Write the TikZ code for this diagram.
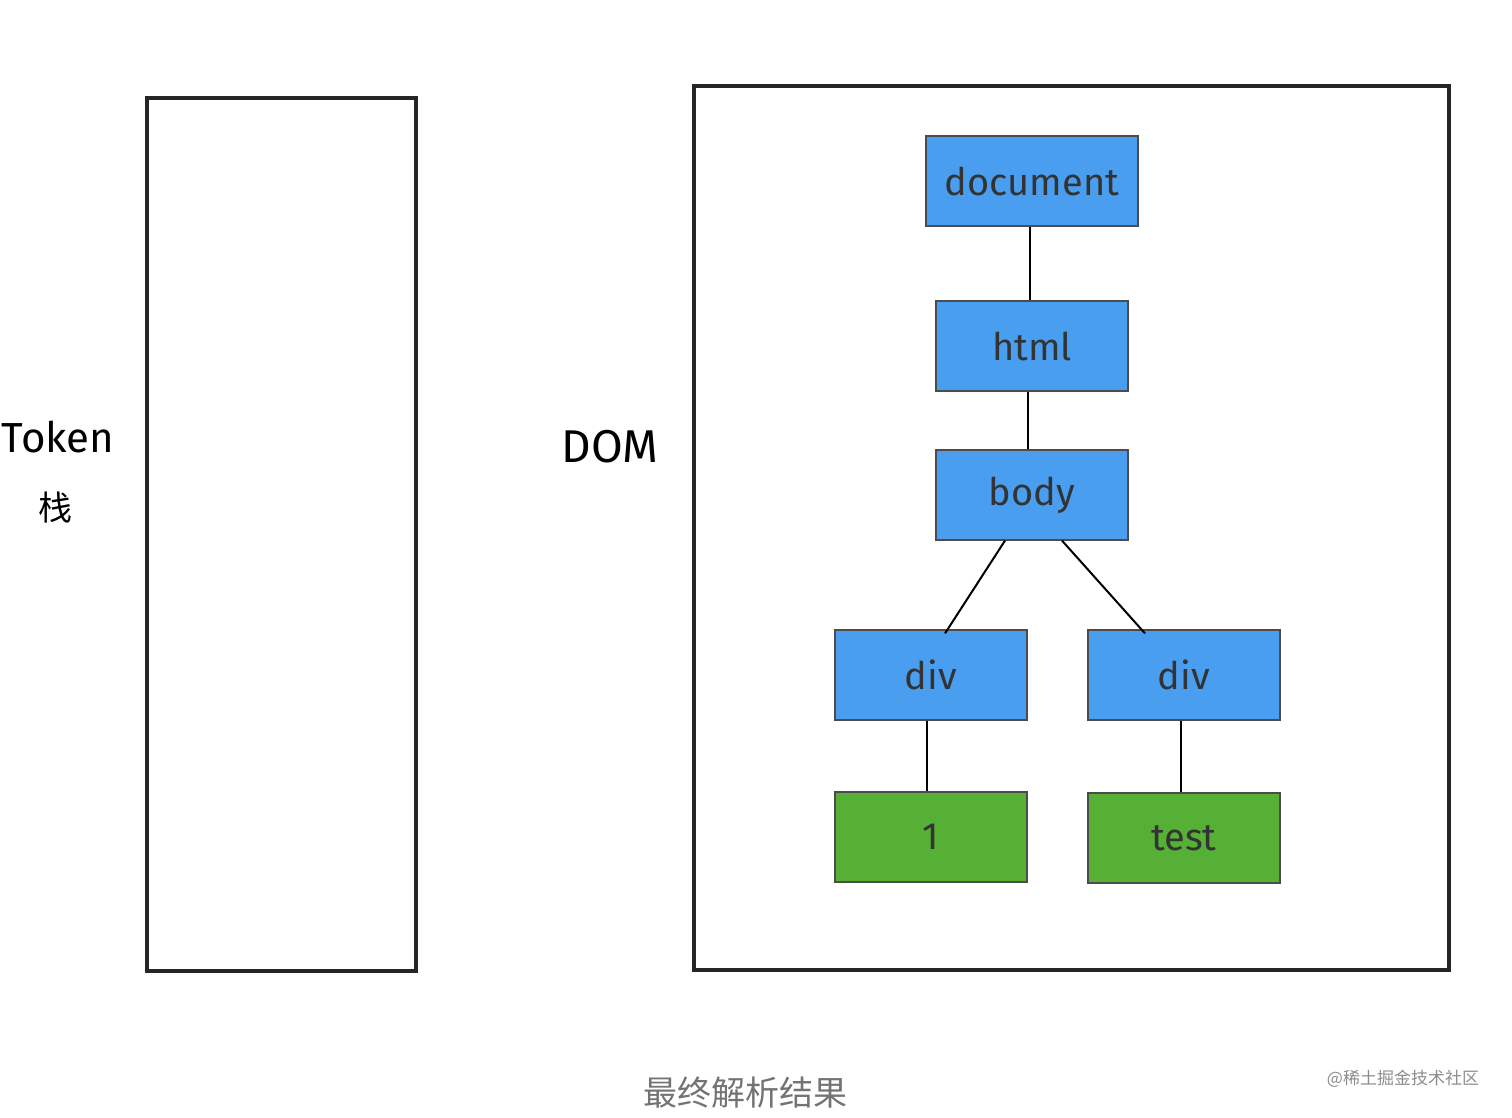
\documentclass[tikz,border=0pt]{standalone}
\usepackage{fontspec}
\setmainfont{Fira Sans}
\newfontfamily\cjk{Noto Sans CJK SC}
\begin{document}
\begin{tikzpicture}[x=1pt,y=-1pt,
  box/.style={draw=black!70,line width=1.2pt,minimum width=192pt,minimum height=90pt,inner sep=0pt,font=\fontsize{38}{44}\selectfont,text=black!80},
  blue/.style={box,fill={rgb,255:red,74;green,158;blue,240}},
  green/.style={box,fill={rgb,255:red,85;green,176;blue,53}},
  frame/.style={draw=black!85,line width=3.5pt},
  conn/.style={line width=2pt}]
\useasboundingbox (0,0) rectangle (1512,1118);
\draw[frame] (147,98) rectangle (416,971);
\draw[frame] (694,86) rectangle (1449,970);
\node[blue,minimum width=212pt] (doc) at (1032,181) {document};
\node[blue] (html) at (1032,346) {html};
\node[blue] (body) at (1032,495) {body};
\node[blue] (div1) at (931,675) {div};
\node[blue] (div2) at (1184,675) {div};
\node[green] (one) at (931,837) {1};
\node[green] (test) at (1184,838) {test};
\draw[conn] ([xshift=-2]doc.south) -- ([xshift=-2]html.north);
\draw[conn] ([xshift=-4]html.south) -- ([xshift=-4]body.north);
\draw[conn] ([xshift=-27]body.south) -- ([xshift=14,yshift=-4]div1.north);
\draw[conn] ([xshift=30]body.south) -- ([xshift=-39,yshift=-4]div2.north);
\draw[conn] ([xshift=-4]div1.south) -- ([xshift=-4]one.north);
\draw[conn] ([xshift=-3]div2.south) -- ([xshift=-3]test.north);
\node[font=\fontsize{42}{48}\selectfont] (tok) at (58,437) {Token};
\node[font=\cjk\fontsize{34}{38}\selectfont] (zh) at (55,508) {栈};
\node[font=\fontsize{46}{52}\selectfont] (dom) at (610,447) {DOM};
\node[font=\cjk\fontsize{34}{40}\selectfont,text=black!55] (cap) at (745,1093) {最终解析结果};
\node[font=\cjk\fontsize{17}{20}\selectfont,text=black!45] (wm) at (1403,1079) {@稀土掘金技术社区};
\end{tikzpicture}
\end{document}
